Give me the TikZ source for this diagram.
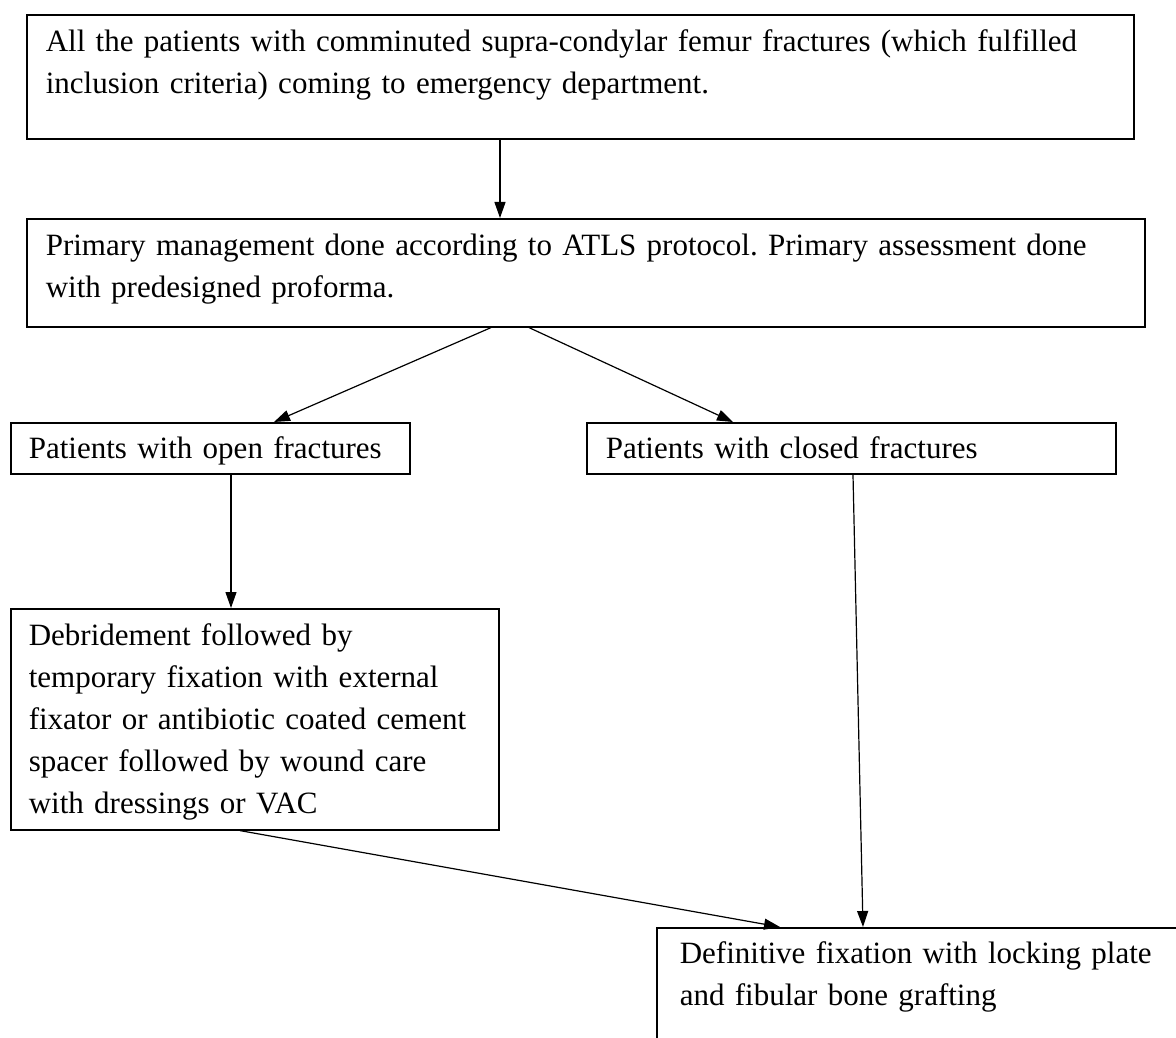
\documentclass[tikz,border=0pt]{standalone}
\usepackage{fontspec}
\setmainfont{Liberation Serif}
\usetikzlibrary{arrows.meta, positioning}
\frenchspacing
\hyphenpenalty=10000

\begin{document}
\begin{tikzpicture}[
      x=1pt, y=-1pt,
      box/.style={draw, line width=1.6pt, anchor=north west, inner ysep=0pt,
        align=left, font=\fontsize{31}{42}\selectfont},
      arr/.style={-{Triangle[length=16pt, width=11pt]}, line width=1.2pt},
    ]
    \useasboundingbox (0,0) rectangle (1176,1038);
    \clip (0,0) rectangle (1176,1038);
    % --- the flow chart boxes -----------------------------------------
    \node[box, inner xsep=19pt, text width=1069pt, text height=37pt, text depth=87pt]
      (admit) at (26,14)
      {All the patients with comminuted supra-condylar femur fractures (which fulfilled\\
       inclusion criteria) coming to emergency department.};
    \node[box, inner xsep=19pt, text width=1080pt, text height=37pt, text depth=71pt]
      (primary) at (26,218)
      {Primary management done according to ATLS protocol. Primary assessment done\\
       with predesigned proforma.};
    \node[box, inner xsep=18pt, text width=363pt, text height=36pt, text depth=15pt]
      (open) at (10,422) {Patients with open fractures};
    \node[box, inner xsep=19pt, text width=491pt, text height=36pt, text depth=15pt]
      (closed) at (586,422) {Patients with closed fractures};
    \node[box, inner xsep=18pt, text width=452pt, text height=37pt, text depth=184pt]
      (debrid) at (10,608)
      {Debridement followed by\\
       temporary fixation with external\\
       fixator or antibiotic coated cement\\
       spacer followed by wound care\\
       with dressings or VAC};
    \node[box, inner xsep=23pt, text width=498pt, text height=36pt, text depth=97pt]
      (defin) at (656,927)
      {Definitive fixation with locking plate\\
       and fibular bone grafting};
    % --- connectors -----------------------------------------------------
    \draw[arr] ([xshift=474pt]admit.south west) -- ([xshift=474pt]primary.north west);
    \draw[arr] ([xshift=465pt]primary.south west) -- ([xshift=264pt]open.north west);
    \draw[arr] ([xshift=503pt]primary.south west) -- ([xshift=147pt]closed.north west);
    \draw[arr] ([xshift=221pt]open.south west) -- ([xshift=221pt]debrid.north west);
    \draw[arr] ([xshift=267pt]closed.south west) -- ([xshift=207pt]defin.north west);
    \draw[arr] ([xshift=230pt]debrid.south west) -- ([xshift=124pt]defin.north west);
  \end{tikzpicture}
\end{document}
